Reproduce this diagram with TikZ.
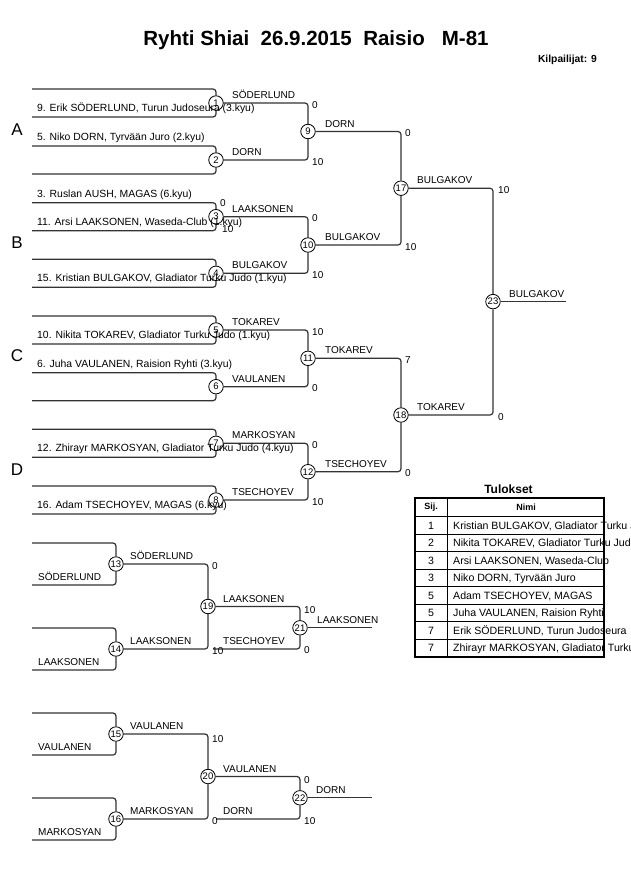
\documentclass[tikz,border=0pt]{standalone}
\usepackage{fontspec}
\setmainfont{Liberation Sans}
\begin{document}
\begin{tikzpicture}[x=1pt,y=-1pt,
  ln/.style={line width=1.2pt,draw=black!80,rounded corners=3pt},
  mc/.style={circle,draw=black,line width=0.8pt,fill=white,minimum size=14.5pt,inner sep=0pt,font=\fontsize{9.5}{10}\selectfont},
  lbl/.style={anchor=base west,inner sep=0pt,font=\fontsize{10}{12}\selectfont},
  ent/.style={anchor=base west,inner sep=0pt,font=\fontsize{10.4}{12}\selectfont},
  grp/.style={inner sep=0pt,font=\fontsize{17}{20}\selectfont},
  cell/.style={inner sep=0pt,font=\fontsize{10.6}{12}\selectfont},
  hdr/.style={inner sep=0pt,font=\bfseries\fontsize{9}{11}\selectfont}]
\useasboundingbox (0,0) rectangle (630,891);
\begin{scope}
\clip (0,0) rectangle (630,891);
\node[inner sep=0pt,font=\bfseries\fontsize{20.5}{24}\selectfont] (title) at (316,40.5) {Ryhti Shiai\ \ 26.9.2015\ \ Raisio\ \ \ M-81};
\node[anchor=east,inner sep=0pt,font=\bfseries\fontsize{10.3}{12}\selectfont] (count) at (597,60) {Kilpailijat: 9};

% first round
\foreach \n/\y in {1/103,2/160,3/216.7,4/273.3,5/330,6/386.7,7/443.3,8/500}{
  \node[mc] (m\n) at (216,\y) {\n};
  \coordinate (a\n) at (32,\y-14);
  \coordinate (b\n) at (32,\y+14);
}
\foreach \n in {1,...,8}{
  \draw[ln] (a\n) -| (m\n);
  \draw[ln] (b\n) -| (m\n);
}
% second round
\node[mc] (m9) at (308,131.5) {9};
\node[mc] (m10) at (308,245) {10};
\node[mc] (m11) at (308,358.3) {11};
\node[mc] (m12) at (308,471.7) {12};
\node[mc] (m17) at (401,188.2) {17};
\node[mc] (m18) at (401,415) {18};
\node[mc] (m23) at (493,301.6) {23};
\coordinate (f23) at (566,301.6);
\draw[ln] (m1) -| (m9);  \draw[ln] (m2) -| (m9);
\draw[ln] (m3) -| (m10); \draw[ln] (m4) -| (m10);
\draw[ln] (m5) -| (m11); \draw[ln] (m6) -| (m11);
\draw[ln] (m7) -| (m12); \draw[ln] (m8) -| (m12);
\draw[ln] (m9) -| (m17); \draw[ln] (m10) -| (m17);
\draw[ln] (m11) -| (m18); \draw[ln] (m12) -| (m18);
\draw[ln] (m17) -| (m23); \draw[ln] (m18) -| (m23);
\draw[ln] (m23) -- (f23);

% repechage
\node[mc] (m13) at (116,564) {13};
\node[mc] (m14) at (116,649) {14};
\node[mc] (m19) at (208,606.5) {19};
\node[mc] (m21) at (300,627.8) {21};
\node[mc] (m15) at (116,734) {15};
\node[mc] (m16) at (116,819) {16};
\node[mc] (m20) at (208,776.5) {20};
\node[mc] (m22) at (300,797.8) {22};
\coordinate (a13) at (32,543); \coordinate (b13) at (32,585);
\coordinate (a14) at (32,628); \coordinate (b14) at (32,670);
\coordinate (a15) at (32,713); \coordinate (b15) at (32,755);
\coordinate (a16) at (32,798); \coordinate (b16) at (32,840);
\coordinate (t21) at (213,649); \coordinate (f21) at (372,627.8);
\coordinate (t22) at (216,819); \coordinate (f22) at (372,797.8);
\foreach \n in {13,14,15,16}{
  \draw[ln] (a\n) -| (m\n);
  \draw[ln] (b\n) -| (m\n);
}
\draw[ln] (m13) -| (m19); \draw[ln] (m14) -| (m19);
\draw[ln] (m19) -| (m21); \draw[ln] (t21) -| (m21);
\draw[ln] (m21) -- (f21);
\draw[ln] (m15) -| (m20); \draw[ln] (m16) -| (m20);
\draw[ln] (m20) -| (m22); \draw[ln] (t22) -| (m22);
\draw[ln] (m22) -- (f22);

% group letters
\node[grp] (gA) at (17,130) {A};
\node[grp] (gB) at (17,243) {B};
\node[grp] (gC) at (17,356) {C};
\node[grp] (gD) at (17,470) {D};

% entry names
\node[ent] (e1) at (37,111.5) {9. Erik SÖDERLUND, Turun Judoseura (3.kyu)};
\node[ent] (e2) at (37,140.5) {5. Niko DORN, Tyrvään Juro (2.kyu)};
\node[ent] (e3) at (37,197.2) {3. Ruslan AUSH, MAGAS (6.kyu)};
\node[ent] (e4) at (37,225.2) {11. Arsi LAAKSONEN, Waseda-Club (1.kyu)};
\node[ent] (e5) at (37,281.8) {15. Kristian BULGAKOV, Gladiator Turku Judo (1.kyu)};
\node[ent] (e6) at (37,338.5) {10. Nikita TOKAREV, Gladiator Turku Judo (1.kyu)};
\node[ent] (e7) at (37,367.2) {6. Juha VAULANEN, Raision Ryhti (3.kyu)};
\node[ent] (e8) at (37,451.8) {12. Zhirayr MARKOSYAN, Gladiator Turku Judo (4.kyu)};
\node[ent] (e9) at (37,508.5) {16. Adam TSECHOYEV, MAGAS (6.kyu)};

% winner labels
\node[lbl] at (232,98.5) {SÖDERLUND};
\node[lbl] at (232,155.5) {DORN};
\node[lbl] at (232,212.2) {LAAKSONEN};
\node[lbl] at (232,268.8) {BULGAKOV};
\node[lbl] at (232,325.5) {TOKAREV};
\node[lbl] at (232,382.2) {VAULANEN};
\node[lbl] at (232,438.8) {MARKOSYAN};
\node[lbl] at (232,495.5) {TSECHOYEV};
\node[lbl] at (325,127) {DORN};
\node[lbl] at (325,240.5) {BULGAKOV};
\node[lbl] at (325,353.8) {TOKAREV};
\node[lbl] at (325,467.2) {TSECHOYEV};
\node[lbl] at (417,183.7) {BULGAKOV};
\node[lbl] at (417,410.5) {TOKAREV};
\node[lbl] at (509,297.1) {BULGAKOV};

% scores
\node[lbl] at (220,206) {0};
\node[lbl] at (222,232.5) {10};
\node[lbl] at (312,108) {0};
\node[lbl] at (312,165) {10};
\node[lbl] at (312,221.7) {0};
\node[lbl] at (312,278.3) {10};
\node[lbl] at (312,335) {10};
\node[lbl] at (312,391.7) {0};
\node[lbl] at (312,448.3) {0};
\node[lbl] at (312,505) {10};
\node[lbl] at (405,136.5) {0};
\node[lbl] at (405,250) {10};
\node[lbl] at (405,363.3) {7};
\node[lbl] at (405,476.7) {0};
\node[lbl] at (498,193.2) {10};
\node[lbl] at (498,420) {0};

% repechage texts
\node[lbl] at (38,580) {SÖDERLUND};
\node[lbl] at (38,665) {LAAKSONEN};
\node[lbl] at (130,559.5) {SÖDERLUND};
\node[lbl] at (130,644.5) {LAAKSONEN};
\node[lbl] at (212,569) {0};
\node[lbl] at (212,654) {10};
\node[lbl] at (223,602) {LAAKSONEN};
\node[lbl] at (223,644.5) {TSECHOYEV};
\node[lbl] at (304,613) {10};
\node[lbl] at (304,653) {0};
\node[lbl] at (317,623.3) {LAAKSONEN};

\node[lbl] at (38,750) {VAULANEN};
\node[lbl] at (38,835) {MARKOSYAN};
\node[lbl] at (130,729.5) {VAULANEN};
\node[lbl] at (130,814.5) {MARKOSYAN};
\node[lbl] at (212,742) {10};
\node[lbl] at (212,824) {0};
\node[lbl] at (223,772) {VAULANEN};
\node[lbl] at (223,814.5) {DORN};
\node[lbl] at (304,783) {0};
\node[lbl] at (304,824) {10};
\node[lbl] at (316,793.3) {DORN};

% results table
\node[inner sep=0pt,font=\bfseries\fontsize{12}{14}\selectfont] (tul) at (508.5,489) {Tulokset};
\draw[line width=0.8pt] (447,498) -- (447,656.7);
\foreach \k in {0,...,7}{
  \draw[line width=0.8pt] (415,516.7+17.5*\k) -- (604,516.7+17.5*\k);
}
\draw[line width=1.6pt] (415,498) rectangle (604,656.7);
\node[hdr] (hs) at (431,507.5) {Sij.};
\node[hdr] (hn) at (526,507.5) {Nimi};
\foreach \k/\p/\nm in {0/1/{Kristian BULGAKOV, Gladiator Turku Judo},
                      1/2/{Nikita TOKAREV, Gladiator Turku Judo},
                      2/3/{Arsi LAAKSONEN, Waseda-Club},
                      3/3/{Niko DORN, Tyrvään Juro},
                      4/5/{Adam TSECHOYEV, MAGAS},
                      5/5/{Juha VAULANEN, Raision Ryhti},
                      6/7/{Erik SÖDERLUND, Turun Judoseura},
                      7/7/{Zhirayr MARKOSYAN, Gladiator Turku Judo}}{
  \node[cell,anchor=base] (r\k) at (431,529+17.5*\k) {\p};
  \node[cell,anchor=base west] (n\k) at (453,529+17.5*\k) {\nm};
}
\end{scope}
\end{tikzpicture}
\end{document}
